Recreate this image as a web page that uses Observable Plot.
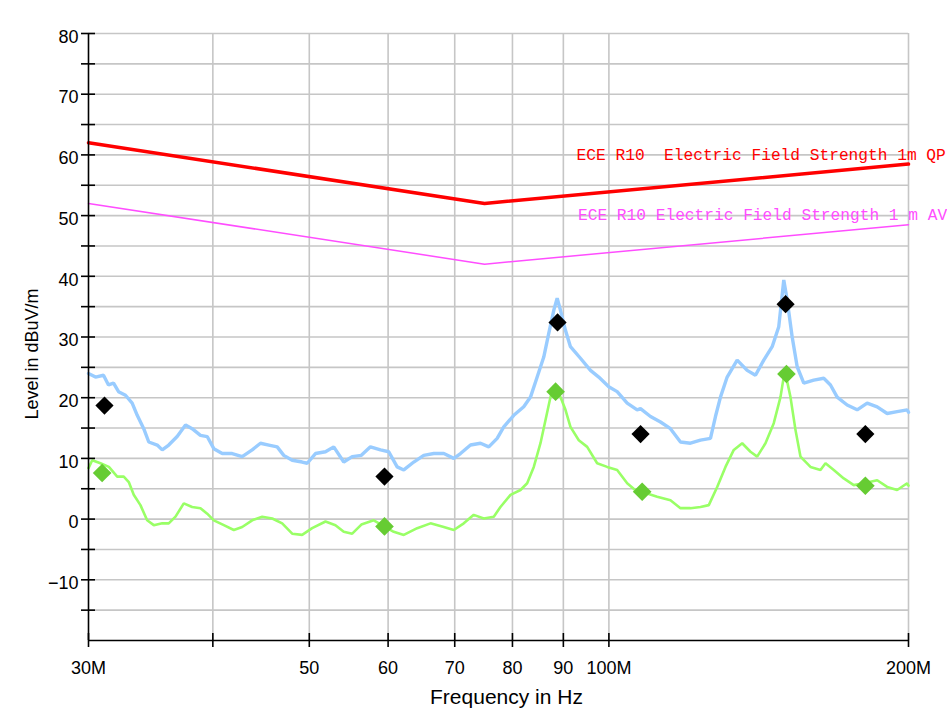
<!DOCTYPE html>
<html><head><meta charset="utf-8">
<script src="https://cdn.jsdelivr.net/npm/d3@7"></script>
<script src="https://cdn.jsdelivr.net/npm/@observablehq/plot@0.6"></script>
<style>body{margin:0;background:#fff;}</style>
</head><body><div id="chart"></div><script>
// Peak scan (light blue), frequency in MHz and level in dBuV/m
const peakFreq = [30.0,30.49,31.06,31.42,31.79,32.16,32.68,33.19,33.58,34.09,34.49,35.17,35.58,36.12,36.83,37.55,38.13,38.87,39.48,40.09,40.88,41.83,42.81,43.81,44.66,45.53,46.42,47.13,48.06,49.18,49.76,50.72,51.91,52.91,54.15,55.22,56.4,57.6,58.95,60.09,61.27,62.22,63.67,65.16,66.69,68.25,69.85,70.94,72.6,74.3,75.74,77.22,78.41,80.25,82.12,83.41,84.71,86.01,87.01,88.03,88.72,89.4,90.44,91.49,93.63,95.83,97.68,99.97,101.93,104.32,106.76,107.58,110.1,112.68,115.31,118.01,120.77,123.6,126.49,127.96,129.45,131.47,134.55,137.7,140.37,143.09,145.9,148.14,149.87,151.05,152.81,154.59,156.97,160.64,164.4,166.97,169.58,173.54,177.61,181.76,186.02,190.37,194.82,199.38,200];
const peakLevel = [24.0,23.4,23.7,22.1,22.4,21.0,20.4,19.1,17.1,14.9,12.7,12.2,11.4,12.2,13.6,15.5,14.9,13.8,13.6,11.6,10.8,10.8,10.3,11.4,12.5,12.2,11.9,10.5,9.7,9.4,9.2,10.8,11.1,11.9,9.4,10.3,10.5,11.9,11.4,11.1,8.6,8.1,9.4,10.5,10.8,10.8,10.0,10.8,12.2,12.5,11.9,13.3,15.2,17.1,18.5,20.1,23.4,26.7,30.6,34.4,36.4,34.4,31.1,28.4,26.5,24.5,23.4,21.8,21.0,19.1,18.0,18.2,16.9,16.0,14.9,12.7,12.5,13.0,13.3,16.9,20.1,23.4,26.2,24.5,23.7,26.2,28.4,31.7,39.4,36.1,30.0,25.1,22.4,22.9,23.2,22.1,20.1,18.8,18.0,19.1,18.5,17.4,17.7,18.0,17.6];

// Average scan (light green)
const avgFreq = [30.0,30.26,30.84,31.45,32.06,32.55,32.93,33.31,33.83,34.36,34.89,35.58,36.12,36.69,37.4,38.13,38.87,39.48,40.09,41.03,41.99,42.81,43.81,44.84,45.89,46.96,48.06,49.18,50.33,51.91,53.12,54.15,55.22,56.4,58.04,60.79,62.22,64.18,66.18,68.25,69.85,71.48,73.15,74.87,76.62,77.81,79.64,81.5,82.77,84.05,85.36,86.35,87.36,88.03,89.4,90.44,91.49,93.27,95.1,97.32,99.6,101.93,104.32,106.76,109.26,111.82,115.31,118.01,120.77,123.6,126.0,128.47,130.96,133.5,136.12,138.76,140.92,143.66,146.44,148.73,150.22,152.21,153.98,155.77,159.42,163.15,165.05,168.25,172.18,176.21,180.34,186.02,190.37,194.82,199.38,200];
const avgLevel = [8.4,9.7,9.2,8.6,7.0,7.0,6.1,4.0,2.3,-0.2,-1.0,-0.7,-0.7,0.4,2.6,2.0,1.8,0.9,-0.2,-1.0,-1.8,-1.3,-0.2,0.4,0.1,-0.7,-2.4,-2.6,-1.5,-0.4,-1.0,-2.1,-2.4,-0.9,-0.2,-2.1,-2.6,-1.5,-0.7,-1.3,-1.8,-0.7,0.7,0.1,0.4,2.0,4.0,4.8,5.9,8.6,12.5,16.3,20.1,21.8,20.1,18.0,15.2,13.0,11.9,9.2,8.6,8.1,5.9,4.5,4.2,3.7,3.1,1.8,1.8,2.0,2.3,5.3,8.6,11.4,12.5,11.1,10.3,12.5,15.8,20.1,24.5,20.1,14.7,10.3,8.6,8.1,9.2,8.1,6.7,5.6,5.9,6.4,5.3,4.8,5.9,5.5];

// Limit lines
const qpLimitFreq = [30, 75, 200];
const qpLimitLevel = [62, 52, 58.5];
const avLimitFreq = [30, 75, 200];
const avLimitLevel = [52, 42, 48.5];

// Final measurement markers
const qpMarkFreq = [31.13, 59.5, 88.8, 107.6, 150.5, 181];
const qpMarkLevel = [18.7, 7.0, 32.4, 14.0, 35.4, 14.0];
const avMarkFreq = [30.96, 59.5, 88.4, 108.0, 150.8, 181];
const avMarkLevel = [7.6, -1.2, 21.0, 4.5, 23.9, 5.5];

// Limit labels
const limitLabelText = ["ECE R10  Electric Field Strength 1m QP", "ECE R10 Electric Field Strength 1 m AV"];
const limitLabelFreq = [92.8, 93.1];
const limitLabelLevel = [60.0, 50.1];

// Axes
const xGridValues = [40, 50, 60, 70, 80, 90, 100, 200];
const xTickValues = [30, 40, 50, 60, 70, 80, 90, 100, 200];
const xLabelValues = [30, 50, 60, 70, 80, 90, 100, 200];
const xLabelText = ["30M", "50", "60", "70", "80", "90", "100M", "200M"];
const yGridValues = [-15, -10, -5, 0, 5, 10, 15, 20, 25, 30, 35, 40, 45, 50, 55, 60, 65, 70, 75, 80];
const yTickValues = [-15, -10, -5, 0, 5, 10, 15, 20, 25, 30, 35, 40, 45, 50, 55, 60, 65, 70, 75, 80];
const yLabelValues = [-10, 0, 10, 20, 30, 40, 50, 60, 70, 80];

const zip = (fs, vs) => fs.map((f, i) => ({f, v: vs[i]}));
const peak = zip(peakFreq, peakLevel);
const avg = zip(avgFreq, avgLevel);
const qpLimit = zip(qpLimitFreq, qpLimitLevel);
const avLimit = zip(avLimitFreq, avLimitLevel);
const qpMarks = zip(qpMarkFreq, qpMarkLevel);
const avMarks = zip(avMarkFreq, avMarkLevel);
const limitLabels = limitLabelText.map((t, i) => ({t, f: limitLabelFreq[i], v: limitLabelLevel[i], c: i === 0 ? "#ff0000" : "#ff4dff"}));
const xLabelMap = new Map(xLabelValues.map((v, i) => [v, xLabelText[i]]));

const gridStroke = "#c6c6c6";
const chart = Plot.plot({
  width: 947,
  height: 709,
  marginTop: 33,
  marginBottom: 69,
  marginLeft: 88,
  marginRight: 39,
  style: {fontFamily: "'Liberation Sans', Arial, sans-serif", fontSize: "18px", background: "#fff", overflow: "visible", color: "#000"},
  x: {type: "log", domain: [30, 200], label: null},
  y: {domain: [-20, 80], label: null},
  marks: [
    Plot.ruleX(xGridValues, {stroke: gridStroke, strokeWidth: 1.6}),
    Plot.ruleY(yGridValues, {stroke: gridStroke, strokeWidth: 1.6}),
    Plot.line(qpLimit, {x: "f", y: "v", stroke: "#ff0000", strokeWidth: 3.5}),
    Plot.line(avLimit, {x: "f", y: "v", stroke: "#ff4dff", strokeWidth: 1.5}),
    Plot.line(peak, {x: "f", y: "v", stroke: "#99ccff", strokeWidth: 3.4, strokeLinejoin: "bevel"}),
    Plot.line(avg, {x: "f", y: "v", stroke: "#99ff66", strokeWidth: 2.6, strokeLinejoin: "bevel"}),
    Plot.dot(qpMarks, {x: "f", y: "v", symbol: "diamond2", r: 8.2, fill: "#000", stroke: "none"}),
    Plot.dot(avMarks, {x: "f", y: "v", symbol: "diamond2", r: 8.4, fill: "#66cc33", stroke: "none"}),
    Plot.text(limitLabels, {x: "f", y: "v", text: "t", fill: "c", textAnchor: "start", fontFamily: "'Liberation Mono', monospace", fontSize: 16.2}),
    Plot.ruleX([30], {stroke: "#000", strokeWidth: 1.6}),
    Plot.ruleY([-20], {stroke: "#000", strokeWidth: 1.6}),
    Plot.axisY(yTickValues, {tickSize: 14, dx: 7, tickFormat: () => "", strokeWidth: 1.6, label: null}),
    Plot.axisY(yLabelValues, {tickSize: 0, tickPadding: 10, dy: 3.5, fontSize: 18, label: null}),
    Plot.axisX(xTickValues, {tickSize: 14, dy: -7, tickFormat: () => "", strokeWidth: 1.6, label: null}),
    Plot.axisX(xLabelValues, {tickSize: 0, tickPadding: 21, tickFormat: d => xLabelMap.get(d), fontSize: 18, label: null}),
    Plot.text(["Frequency in Hz"], {text: d => d, frameAnchor: "bottom", textAnchor: "middle", dy: 63, dx: 8, fontSize: 21}),
    Plot.text(["Level in dBuV/m"], {text: d => d, frameAnchor: "left", textAnchor: "middle", dx: -56, dy: 17, rotate: -90, fontSize: 18})
  ]
});
document.getElementById("chart").appendChild(chart);
</script></body></html>
